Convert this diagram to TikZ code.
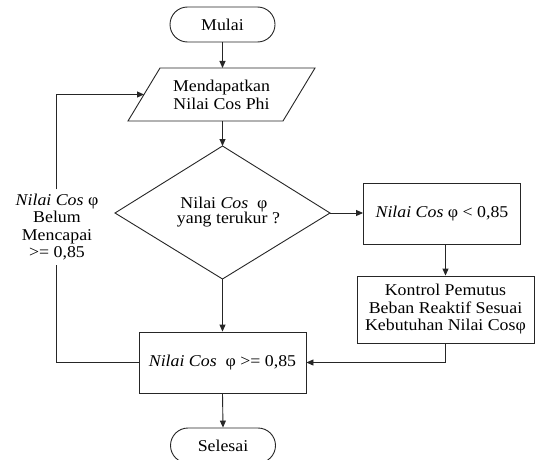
\documentclass[tikz,border=0pt]{standalone}
\usepackage{fontspec}
\setmainfont{Liberation Serif}[FakeStretch=1.08]
\usetikzlibrary{arrows.meta}
\begin{document}
\begin{tikzpicture}[x=1pt,y=-1pt,
  line width=0.9pt,
  every node/.style={font=\fontsize{16.5}{17.5}\selectfont, align=center, inner sep=0pt},
  ln/.style={draw=black!85},
  arr/.style={ln, -{Triangle[length=7pt,width=6pt]}},
  term/.style={draw=black!85, rounded corners=17.5pt, minimum width=105pt, minimum height=35pt},
  boxnode/.style={draw=black!85, rectangle}
]
\useasboundingbox (0,0) rectangle (535,460);
\fill[white] (0,0) rectangle (535,460);

% terminator start
\node[term] (mulai) at (222.5,24.5) {Mulai};

% input parallelogram
\coordinate (parT) at (222.5,68);
\coordinate (parB) at (222.5,121);
\coordinate (parL) at (144,94.5);
\draw[ln] (160,68) -- (315,68) -- (283,121) -- (128,121) -- cycle;
\node (par) at (221.5,95) {Mendapatkan\\Nilai Cos Phi};

% decision diamond
\coordinate (dT) at (222.5,146);
\coordinate (dR) at (330,213);
\coordinate (dB) at (222.5,279);
\coordinate (dL) at (115,213);
\draw[ln] (dT) -- (dR) -- (dB) -- (dL) -- cycle;
\node[font=\fontsize{16.5}{15.5}\selectfont] (dec) at (224,212) {Nilai \textit{Cos}\ \ φ\\\ \ yang terukur ?};

% boxes
\node[boxnode, minimum width=157pt, minimum height=61pt] (box1) at (442,213.5) {\textit{Nilai Cos} φ < 0,85};
\node[boxnode, minimum width=177pt, minimum height=67pt] (box2) at (445.5,309.5) {Kontrol Pemutus\\Beban Reaktif Sesuai\\Kebutuhan Nilai Cosφ};
\node[boxnode, minimum width=167pt, minimum height=61pt] (box3) at (222.5,362.5) {\textit{Nilai Cos}\ \ φ >= 0,85};

% terminator end
\node[term] (selesai) at (223,445.5) {Selesai};

% loop label
\node[inner sep=4pt] (lbl) at (57,227) {\textit{Nilai Cos} φ\\Belum\\Mencapai\\>= 0,85};
\coordinate (loopB) at (56,362.5);

% connectors
\draw[arr] (mulai.south) -- (parT);
\draw[arr] (parB) -- (dT);
\draw[arr] (dR) -- (dR -| box1.west);
\draw[arr] (box2.north |- box1.south) -- (box2.north);
\draw[arr] (box2.south) |- (box3.east);
\draw[arr] (dB) -- (box3.north);
\draw[arr] (box3.south) -- (selesai.north);
\draw[ln] (box3.west) -- (loopB) -- (loopB |- lbl.south);
\draw[arr] (loopB |- lbl.north) |- (parL);
\end{tikzpicture}
\end{document}
